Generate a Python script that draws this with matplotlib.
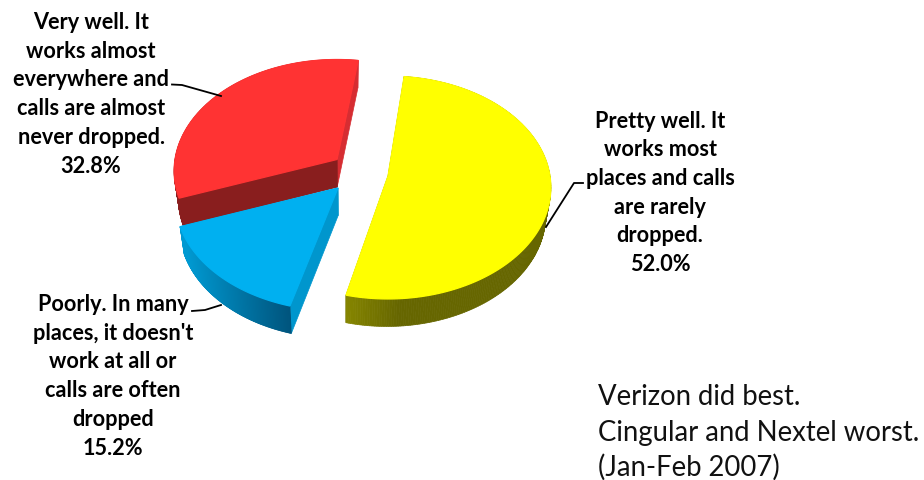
import numpy as np
import matplotlib
matplotlib.use("Agg")
import matplotlib.pyplot as plt

shares = [52.0, 15.2, 32.8]
slice_names = ["Pretty well", "Poorly", "Very well"]
label_lines = [
    ["Pretty well. It", "works most", "places and calls", "are rarely", "dropped.", "52.0%"],
    ["Poorly. In many", "places, it doesn't", "work at all or", "calls are often", "dropped", "15.2%"],
    ["Very well. It", "works almost", "everywhere and", "calls are almost", "never dropped.", "32.8%"],
]
note_lines = ["Verizon did best.", "Cingular and Nextel worst.", "(Jan-Feb 2007)"]

W, H = 924, 481
START = 83.7
APEX = [(388, 177), (338, 189), (337, 160.5)]
TWIST = [0, -2, -2]
TOP = ["#ffff00", "#00b0f0", "#ff3333"]
CUT_START = ["#666600", "#0096cd", "#891e1e"]
CUT_END = ["#666600", "#0096cd", "#d62d32"]
WALL_L = [(0.53, 0.53, 0.0), (0.0, 0.60, 0.82), (0.54, 0.12, 0.12)]
WALL_R = [(0.40, 0.40, 0.0), (0.0, 0.33, 0.49), (0.84, 0.18, 0.20)]
WALL_RANGE = [(345, 400), (185, 290), (200, 340)]
A, B, K = 162, 110.3, 0.103
DEPTH, SHRINK, VX = 27.5, 0.975, 345

fig = plt.figure(figsize=(W / 100, H / 100), dpi=100)
ax = fig.add_axes([0, 0, 1, 1])
ax.set_xlim(0, W)
ax.set_ylim(H, 0)
ax.axis("off")


def proj(cx, cy, t):
    u, v = np.cos(np.radians(t)), np.sin(np.radians(t))
    w = 1 + K * v
    return cx + A * u / w, cy - B * v / w


def lower(x, y):
    return VX + (np.asarray(x) - VX) * SHRINK, np.asarray(y) + DEPTH


edges = START - np.concatenate([[0], np.cumsum(shares)]) * 3.6
for i in [2, 1, 0]:
    cx, cy = APEX[i]
    t = np.linspace(edges[i] + TWIST[i], edges[i + 1] + TWIST[i], 240)
    x, y = proj(cx, cy, t)
    xl, yl = lower(x, y)
    ax0, ay0 = lower(cx, cy)
    base_z = i * -3 + 7
    # cut faces
    ax.fill([cx, x[-1], xl[-1], ax0], [cy, y[-1], yl[-1], ay0], color=CUT_END[i], lw=0.5, zorder=base_z)
    ax.fill([cx, x[0], xl[0], ax0], [cy, y[0], yl[0], ay0], color=CUT_START[i], lw=0.5, zorder=base_z)
    # outer wall, shaded along x
    xmin, xmax = WALL_RANGE[i]
    for j in range(len(t) - 1):
        f = np.clip((x[j] - xmin) / (xmax - xmin), 0, 1)
        c = tuple((1 - f) * np.array(WALL_L[i]) + f * np.array(WALL_R[i]))
        ax.fill([x[j], x[j + 1], xl[j + 1], xl[j]], [y[j], y[j + 1], yl[j + 1], yl[j]],
                color=c, lw=0.5, zorder=base_z)
    if i == 2:
        ax.fill([cx, x[0], xl[0], ax0], [cy, y[0], yl[0], ay0], color=CUT_START[i], lw=0.5, zorder=base_z)
    ax.fill(np.r_[cx, x], np.r_[cy, y], color=TOP[i], lw=0.9, zorder=base_z + 1)

# leader lines
ax.plot([172, 182, 221], [85.5, 86, 97], color="black", lw=1.3, zorder=20)
ax.plot([192, 205, 221], [312, 311, 306], color="black", lw=1.3, zorder=20)
ax.plot([583, 574, 546], [184, 184, 228], color="black", lw=1.3, zorder=20)

LX = [660, 113, 91]
LY = [127.5, 311, 29]
for lines, lx, ly in zip(label_lines, LX, LY):
    for k, s in enumerate(lines):
        ax.text(lx, ly + k * 28.75, s, ha="center", va="baseline", family="Lato",
                weight="bold", fontsize=15.6, color="black", zorder=30)
for k, s in enumerate(note_lines):
    ax.text(598, 405.5 + k * 35.2, s, ha="left", va="baseline", family="Lato",
            fontsize=19.8, color="#111111", zorder=30)

fig.savefig("out.png", dpi=100)
